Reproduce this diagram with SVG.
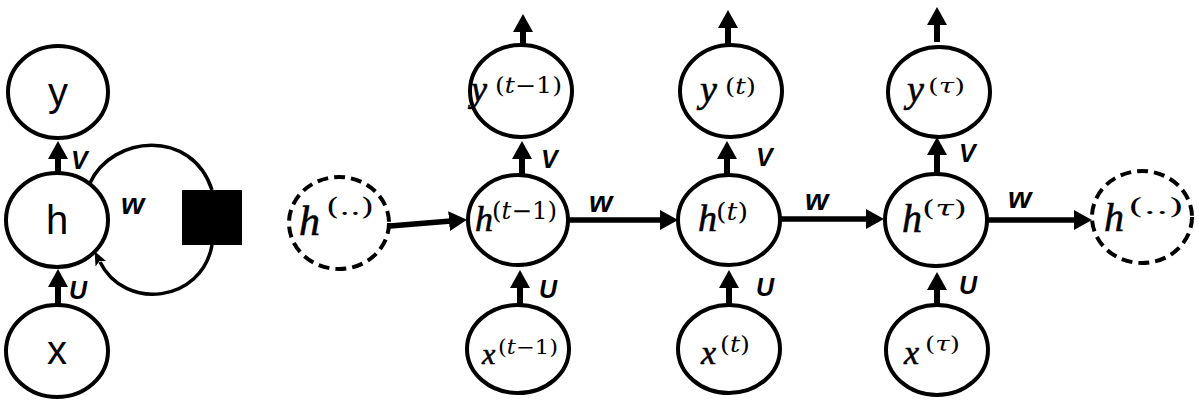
<svg xmlns="http://www.w3.org/2000/svg" width="1199" height="405" viewBox="0 0 1199 405">
<style>
.node{fill:#fff;stroke:#000;stroke-width:4}
.dash{fill:#fff;stroke:#000;stroke-width:4;stroke-dasharray:11 6}
.plain{font-family:"Liberation Sans",Arial,sans-serif;font-size:40px;text-anchor:middle;fill:#000}
.m{font-family:"Liberation Serif","DejaVu Serif",serif;font-style:italic;fill:#000;stroke:#000;stroke-width:0.6}
.sup{font-family:"DejaVu Serif","Liberation Serif",serif;fill:#000}
.lbl{font-family:"Liberation Sans",Arial,sans-serif;font-weight:bold;font-style:italic;font-size:25px;fill:#000}
.wl{font-family:"Liberation Sans",Arial,sans-serif;font-weight:bold;font-style:italic;font-size:30px;fill:#000}
.arr{fill:none;stroke:#000;stroke-width:6}
.harr{fill:none;stroke:#000;stroke-width:5.5}
.loop{fill:none;stroke:#000;stroke-width:3.5}
</style>
<defs>
<marker id="ah" markerUnits="userSpaceOnUse" viewBox="0 0 18 20" markerWidth="18" markerHeight="20" refX="2" refY="10" orient="auto">
<path d="M0,0 L18,10 L0,20 z" fill="#000"/>
</marker>
<marker id="ahs" markerUnits="userSpaceOnUse" viewBox="0 0 14 12" markerWidth="14" markerHeight="12" refX="2" refY="6" orient="auto">
<path d="M0,0 L14,6 L0,12 L3,6 z" fill="#000"/>
</marker>
</defs>
<rect width="1199" height="405" fill="#fff"/>

<g id="connectors">
<!-- left folded -->
<line class="arr" x1="58" y1="173" x2="58" y2="157" marker-end="url(#ah)"/>
<line class="arr" x1="58" y1="305" x2="58" y2="285" marker-end="url(#ah)"/>
<path class="loop" d="M90,183 C112,135 192,128 212,190"/>
<path class="loop" d="M212,245 C202,302 125,312 100,262" marker-end="url(#ahs)"/>
<!-- unrolled horizontal -->
<line class="harr" x1="390" y1="226" x2="451" y2="221" marker-end="url(#ah)"/>
<line class="harr" x1="568" y1="220" x2="662" y2="220" marker-end="url(#ah)"/>
<line class="harr" x1="780" y1="219" x2="868" y2="219" marker-end="url(#ah)"/>
<line class="harr" x1="988" y1="220" x2="1076" y2="220" marker-end="url(#ah)"/>
<!-- V arrows -->
<line class="arr" x1="522" y1="175" x2="522" y2="157" marker-end="url(#ah)"/>
<line class="arr" x1="727" y1="175" x2="727" y2="157" marker-end="url(#ah)"/>
<line class="arr" x1="937" y1="173" x2="937" y2="153" marker-end="url(#ah)"/>
<!-- output arrows -->
<line class="arr" x1="523" y1="45" x2="523" y2="30" marker-end="url(#ah)"/>
<line class="arr" x1="728" y1="45" x2="728" y2="26" marker-end="url(#ah)"/>
<line class="arr" x1="937" y1="42" x2="937" y2="23" marker-end="url(#ah)"/>
<!-- U arrows -->
<line class="arr" x1="520" y1="305" x2="520" y2="286" marker-end="url(#ah)"/>
<line class="arr" x1="729" y1="305" x2="729" y2="286" marker-end="url(#ah)"/>
<line class="arr" x1="937" y1="305" x2="937" y2="288" marker-end="url(#ah)"/>
<!-- labels -->
<text class="lbl" x="71" y="169">V</text>
<text class="lbl" x="69" y="299">U</text>
<text class="wl" x="121" y="214">w</text>
<text class="lbl" x="541" y="168">V</text>
<text class="lbl" x="756" y="166">V</text>
<text class="lbl" x="959" y="162">V</text>
<text class="lbl" x="539" y="298">U</text>
<text class="lbl" x="756" y="296">U</text>
<text class="lbl" x="959" y="294">U</text>
<text class="wl" x="589" y="212">w</text>
<text class="wl" x="805" y="210">w</text>
<text class="wl" x="1008" y="208">w</text>
</g>

<g id="node-y">
<ellipse class="node" cx="58" cy="92" rx="50" ry="46"/>
<text class="plain" x="58" y="106">y</text>
</g>
<g id="node-h">
<ellipse class="node" cx="57" cy="220" rx="51" ry="47"/>
<text class="plain" x="57" y="234">h</text>
</g>
<g id="node-x">
<ellipse class="node" cx="57" cy="351" rx="51" ry="46"/>
<text class="plain" x="57" y="364">x</text>
</g>
<g id="node-delay">
<rect x="182" y="190" width="60" height="55" fill="#000"/>
</g>

<g id="node-h-prev">
<ellipse class="dash" cx="339" cy="223" rx="50" ry="46"/>
<text class="m" x="299" y="235" font-size="42">h</text>
<text class="sup" x="326" y="215" font-size="24" textLength="48" lengthAdjust="spacingAndGlyphs">(..)</text>
</g>
<g id="node-h-t1">
<ellipse class="node" cx="518" cy="220" rx="50" ry="45"/>
<text class="m" x="475" y="231" font-size="36">h</text>
<text class="sup" x="492" y="219" font-size="24" textLength="65" lengthAdjust="spacingAndGlyphs">(<tspan font-style="italic">t</tspan>−1)</text>
</g>
<g id="node-y-t1">
<ellipse class="node" cx="521" cy="91" rx="51" ry="46"/>
<text class="m" x="471" y="101" font-size="36">y</text>
<text class="sup" x="495" y="93" font-size="22" textLength="67" lengthAdjust="spacingAndGlyphs">(<tspan font-style="italic">t</tspan>−1)</text>
</g>
<g id="node-x-t1">
<ellipse class="node" cx="518" cy="349" rx="51" ry="44"/>
<text class="m" x="482" y="364" font-size="30">x</text>
<text class="sup" x="498" y="354" font-size="20" textLength="60" lengthAdjust="spacingAndGlyphs">(<tspan font-style="italic">t</tspan>−1)</text>
</g>

<g id="node-h-t">
<ellipse class="node" cx="729" cy="220" rx="51" ry="45"/>
<text class="m" x="698" y="231" font-size="38">h</text>
<text class="sup" x="716" y="220" font-size="25" textLength="32" lengthAdjust="spacingAndGlyphs">(<tspan font-style="italic">t</tspan>)</text>
</g>
<g id="node-y-t">
<ellipse class="node" cx="731" cy="91" rx="51" ry="46"/>
<text class="m" x="700" y="102" font-size="38">y</text>
<text class="sup" x="725" y="94" font-size="23" textLength="31" lengthAdjust="spacingAndGlyphs">(<tspan font-style="italic">t</tspan>)</text>
</g>
<g id="node-x-t">
<ellipse class="node" cx="729" cy="349" rx="51" ry="44"/>
<text class="m" x="701" y="364" font-size="34">x</text>
<text class="sup" x="720" y="352" font-size="23" textLength="30" lengthAdjust="spacingAndGlyphs">(<tspan font-style="italic">t</tspan>)</text>
</g>

<g id="node-h-tau">
<ellipse class="node" cx="936" cy="220" rx="51" ry="46"/>
<text class="m" x="902" y="232" font-size="40">h</text>
<text class="sup" x="922" y="216" font-size="22" textLength="45" lengthAdjust="spacingAndGlyphs">(<tspan font-style="italic">τ</tspan>)</text>
</g>
<g id="node-y-tau">
<ellipse class="node" cx="939" cy="92" rx="51" ry="45"/>
<text class="m" x="907" y="102" font-size="38">y</text>
<text class="sup" x="928" y="93" font-size="21" textLength="37" lengthAdjust="spacingAndGlyphs">(<tspan font-style="italic">τ</tspan>)</text>
</g>
<g id="node-x-tau">
<ellipse class="node" cx="937" cy="350" rx="51" ry="45"/>
<text class="m" x="904" y="364" font-size="34">x</text>
<text class="sup" x="925" y="351" font-size="21" textLength="35" lengthAdjust="spacingAndGlyphs">(<tspan font-style="italic">τ</tspan>)</text>
</g>

<g id="node-h-next">
<ellipse class="dash" cx="1142" cy="217" rx="50" ry="46"/>
<text class="m" x="1104" y="231" font-size="40">h</text>
<text class="sup" x="1128" y="214" font-size="23" textLength="56" lengthAdjust="spacingAndGlyphs">(..)</text>
</g>
</svg>
